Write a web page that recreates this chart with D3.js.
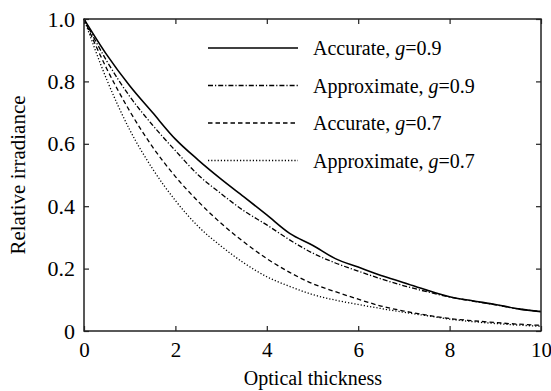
<html>
<script src="https://d3js.org/d3.v7.min.js"></script>
<style>
body { margin: 0; background: white; }
text { font-family: "Liberation Serif", "Times New Roman", serif; fill: black; }
</style>
<body>
<svg width="551" height="391"></svg>
<script>
// optical thickness sample points
var tau = [0, 0.5, 1, 1.5, 2, 2.5, 3, 3.5, 4, 4.5, 5, 5.5, 6, 6.5, 7, 7.5, 8, 8.5, 9, 9.5, 10];
var accurate09 = [1.0, 0.885, 0.786, 0.70, 0.615, 0.548, 0.487, 0.43, 0.372, 0.313, 0.275, 0.232, 0.205, 0.178, 0.155, 0.131, 0.11, 0.097, 0.085, 0.071, 0.062];
var approx09 = [1.0, 0.865, 0.752, 0.66, 0.578, 0.50, 0.44, 0.385, 0.34, 0.292, 0.25, 0.218, 0.192, 0.167, 0.145, 0.126, 0.109, 0.096, 0.084, 0.071, 0.062];
var accurate07 = [1.0, 0.84, 0.705, 0.59, 0.495, 0.415, 0.345, 0.285, 0.232, 0.188, 0.152, 0.126, 0.102, 0.08, 0.064, 0.051, 0.04, 0.033, 0.027, 0.022, 0.018];
var approx07 = [1.0, 0.805, 0.645, 0.52, 0.418, 0.335, 0.272, 0.218, 0.174, 0.143, 0.117, 0.099, 0.085, 0.072, 0.06, 0.049, 0.038, 0.03, 0.024, 0.019, 0.015];
var seriesNames = ["Accurate, ", "Approximate, ", "Accurate, ", "Approximate, "];
var seriesG = ["0.9", "0.9", "0.7", "0.7"];
var xTicks = [0, 2, 4, 6, 8, 10];
var yTicks = [0, 0.2, 0.4, 0.6, 0.8, 1.0];
var yTickLabels = ["0", "0.2", "0.4", "0.6", "0.8", "1.0"];

var svg = d3.select("svg");
var L = 84, T = 19, R = 541, B = 331;
var x = d3.scaleLinear().domain([0, 10]).range([L, R]);
var y = d3.scaleLinear().domain([0, 1]).range([B, T]);

var series = [accurate09, approx09, accurate07, approx07];
var dashes = [null, "5,2,1.2,2", "4.5,3", "1.2,2"];

var line = d3.line().x(function(d, i) { return x(tau[i]); }).y(function(d) { return y(d); }).curve(d3.curveMonotoneX);

svg.append("g").selectAll("path").data(series).enter().append("path")
  .attr("d", line)
  .attr("fill", "none")
  .attr("stroke", "black")
  .attr("stroke-width", function(d, i) { return i == 0 ? 1.6 : 1.3; })
  .attr("stroke-dasharray", function(d, i) { return dashes[i]; });

// frame with inward ticks
svg.append("rect").attr("x", L).attr("y", T).attr("width", R - L).attr("height", B - T)
  .attr("fill", "none").attr("stroke", "#222").attr("stroke-width", 1.5);

svg.append("g").attr("transform", "translate(0," + B + ")")
  .call(d3.axisBottom(x).tickValues(xTicks).tickSizeInner(-5).tickSizeOuter(0).tickPadding(11).tickFormat(d3.format("d")))
  .call(function(g) { g.select(".domain").remove(); })
  .call(function(g) { g.selectAll("text").style("font-size", "21px").attr("font-family", null); });
svg.append("g").attr("transform", "translate(0," + T + ")")
  .call(d3.axisTop(x).tickValues(xTicks).tickSizeInner(-5).tickSizeOuter(0).tickFormat(""))
  .call(function(g) { g.select(".domain").remove(); });
svg.append("g").attr("transform", "translate(" + L + ",0)")
  .call(d3.axisLeft(y).tickValues(yTicks).tickSizeInner(-5).tickSizeOuter(0).tickPadding(9)
    .tickFormat(function(d, i) { return yTickLabels[i]; }))
  .call(function(g) { g.select(".domain").remove(); })
  .call(function(g) { g.selectAll("text").style("font-size", "22px").attr("font-family", null); });
svg.append("g").attr("transform", "translate(" + R + ",0)")
  .call(d3.axisRight(y).tickValues(yTicks).tickSizeInner(-5).tickSizeOuter(0).tickFormat(""))
  .call(function(g) { g.select(".domain").remove(); });
svg.selectAll(".tick line").attr("stroke", "#222").attr("stroke-width", 1.2);

// axis titles
svg.append("text").attr("x", 313).attr("y", 385).attr("text-anchor", "middle")
  .style("font-size", "20px").text("Optical thickness");
svg.append("text").attr("transform", "translate(25," + ((T + B) / 2) + ") rotate(-90)")
  .attr("text-anchor", "middle").style("font-size", "21px").text("Relative irradiance");

// legend
var leg = svg.append("g").selectAll("g").data(seriesNames).enter().append("g")
  .attr("transform", function(d, i) { return "translate(208," + (48 + i * 37.5) + ")"; });
leg.append("line").attr("x1", 0).attr("x2", 90).attr("y1", 0).attr("y2", 0)
  .attr("stroke", "black").attr("stroke-width", function(d, i) { return i == 0 ? 1.6 : 1.3; })
  .attr("stroke-dasharray", function(d, i) { return dashes[i]; });
var lt = leg.append("text").attr("x", 105).attr("y", 7).style("font-size", "20px");
lt.append("tspan").text(function(d) { return d; });
lt.append("tspan").attr("font-style", "italic").text("g");
lt.append("tspan").text(function(d, i) { return "=" + seriesG[i]; });
</script>
</body>
</html>
